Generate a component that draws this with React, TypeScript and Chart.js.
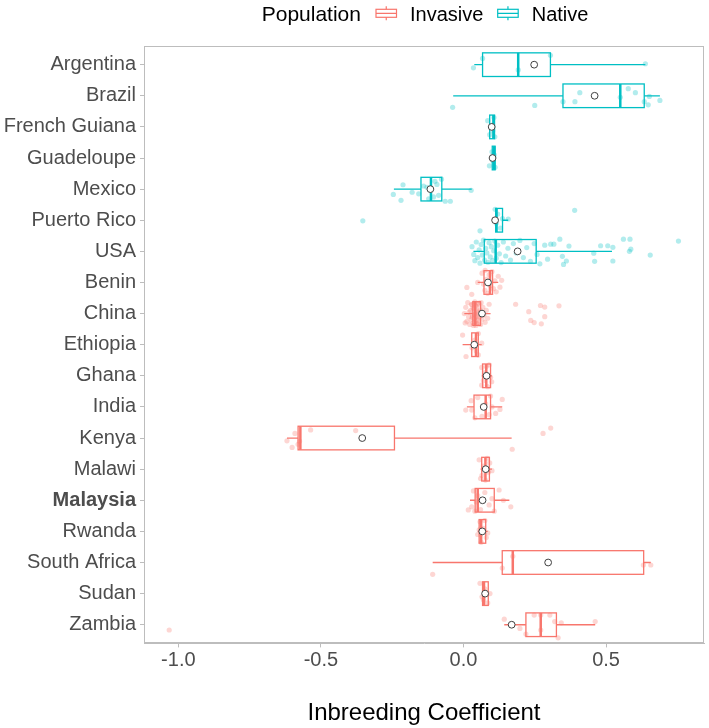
import { useEffect, useRef } from 'react';
import { Chart, registerables } from 'chart.js';

Chart.register(...registerables);

// Countries from top to bottom of the plot
const countries = [
  'Argentina', 'Brazil', 'French Guiana', 'Guadeloupe', 'Mexico', 'Puerto Rico', 'USA',
  'Benin', 'China', 'Ethiopia', 'Ghana', 'India', 'Kenya', 'Malawi', 'Malaysia',
  'Rwanda', 'South Africa', 'Sudan', 'Zambia',
];
const populationOf = [
  'Native', 'Native', 'Native', 'Native', 'Native', 'Native', 'Native',
  'Invasive', 'Invasive', 'Invasive', 'Invasive', 'Invasive', 'Invasive', 'Invasive',
  'Invasive', 'Invasive', 'Invasive', 'Invasive', 'Invasive',
];
const highlighted = 'Malaysia';

// Box-plot summaries per country
const whiskerLow = [0.038, -0.036, 0.090, 0.100, -0.244, 0.105, 0.035, 0.050, 0.003, -0.003, 0.064, 0.012, -0.619, 0.060, 0.023, 0.050, -0.108, 0.065, 0.143];
const lowerQuartile = [0.067, 0.349, 0.092, 0.101, -0.149, 0.113, 0.073, 0.072, 0.033, 0.029, 0.067, 0.037, -0.580, 0.064, 0.041, 0.055, 0.136, 0.067, 0.219];
const medianValue = [0.192, 0.550, 0.105, 0.108, -0.114, 0.116, 0.113, 0.093, 0.041, 0.044, 0.080, 0.078, -0.572, 0.077, 0.050, 0.062, 0.173, 0.072, 0.271];
const upperQuartile = [0.305, 0.634, 0.109, 0.111, -0.076, 0.137, 0.255, 0.102, 0.060, 0.052, 0.095, 0.095, -0.242, 0.091, 0.108, 0.078, 0.632, 0.087, 0.326];
const whiskerHigh = [0.638, 0.689, 0.110, 0.112, 0.029, 0.157, 0.521, 0.122, 0.095, 0.064, 0.100, 0.136, 0.169, 0.100, 0.161, 0.085, 0.657, 0.090, 0.462];
const meanValue = [0.248, 0.460, 0.099, 0.102, -0.116, 0.111, 0.190, 0.086, 0.065, 0.038, 0.081, 0.071, -0.355, 0.078, 0.067, 0.066, 0.297, 0.076, 0.169];

// Individual samples: [inbreeding coefficient, vertical jitter in row units]
const ptsArgentina = [[0.035, 0.10], [0.067, -0.20], [0.192, 0.17], [0.305, -0.30], [0.638, -0.03]];
const ptsBrazil = [[-0.038, 0.37], [0.250, 0.31], [0.349, 0.19], [0.391, 0.19], [0.408, -0.10], [0.550, 0.05], [0.578, -0.23], [0.603, -0.10], [0.634, 0.19], [0.648, 0.29], [0.652, 0.02], [0.689, 0.15]];
const ptsFrenchGuiana = [[0.085, -0.20], [0.092, 0.25], [0.098, -0.05], [0.103, 0.12], [0.107, -0.30], [0.110, 0.32]];
const ptsGuadeloupe = [[0.091, 0.25], [0.100, -0.20], [0.103, 0.08], [0.108, -0.10], [0.111, 0.30]];
const ptsMexico = [[-0.246, 0.17], [-0.219, 0.36], [-0.212, -0.14], [-0.180, 0.10], [-0.157, 0.15], [-0.140, -0.10], [-0.128, -0.06], [-0.122, 0.31], [-0.105, 0.25], [-0.100, -0.25], [-0.093, -0.15], [-0.087, 0.20], [-0.077, -0.32], [-0.064, 0.39], [-0.046, 0.39], [0.027, 0.04]];
const ptsPuertoRico = [[-0.353, 0.02], [0.058, 0.34], [0.111, -0.35], [0.115, 0.10], [0.120, -0.20], [0.130, 0.25], [0.137, -0.05], [0.157, -0.04], [0.390, -0.32]];
const ptsUSA = [
  [0.030, -0.15], [0.036, 0.10], [0.040, 0.30], [0.045, -0.30], [0.050, 0.20], [0.055, -0.05], [0.058, 0.38],
  [0.062, -0.22], [0.066, 0.12], [0.070, -0.36], [0.074, 0.28], [0.078, -0.10], [0.082, 0.05], [0.086, 0.35],
  [0.090, -0.28], [0.094, 0.18], [0.098, -0.15], [0.102, 0.30], [0.106, -0.02], [0.110, -0.33], [0.115, 0.22],
  [0.120, -0.20], [0.126, 0.08], [0.132, 0.36], [0.140, -0.30], [0.148, 0.15], [0.156, -0.10], [0.165, 0.28],
  [0.175, -0.25], [0.185, 0.05], [0.198, -0.35], [0.210, 0.20], [0.222, -0.12], [0.235, 0.32], [0.248, -0.25],
  [0.258, 0.10], [0.268, 0.40], [0.285, -0.20], [0.295, 0.25], [0.306, -0.23], [0.317, -0.23], [0.338, -0.39],
  [0.347, 0.16], [0.351, 0.42], [0.361, 0.31], [0.370, -0.17], [0.457, 0.06], [0.460, 0.32], [0.481, -0.18],
  [0.506, -0.18], [0.524, -0.13], [0.524, 0.31], [0.561, -0.39], [0.582, 0.00], [0.584, -0.39], [0.587, -0.07],
  [0.655, 0.12], [0.754, -0.33],
];
const ptsBenin = [[0.012, 0.16], [0.029, 0.38], [0.050, 0.00], [0.065, -0.30], [0.070, 0.05], [0.075, 0.25], [0.076, -0.39], [0.080, -0.10], [0.085, 0.35], [0.088, 0.00], [0.090, -0.25], [0.095, 0.10], [0.100, -0.35], [0.105, 0.20], [0.110, -0.05], [0.115, 0.30], [0.122, -0.20], [0.128, 0.15], [0.134, -0.07]];
const ptsChina = [
  [0.003, 0.00], [0.006, 0.30], [0.008, -0.20], [0.012, 0.25], [0.015, -0.35], [0.018, 0.10], [0.020, -0.05],
  [0.022, 0.35], [0.025, -0.10], [0.027, 0.20], [0.028, -0.30], [0.030, -0.28], [0.031, 0.12], [0.032, 0.05],
  [0.033, -0.18], [0.034, 0.30], [0.035, 0.38], [0.036, -0.15], [0.037, -0.33], [0.038, 0.15], [0.039, 0.02],
  [0.040, -0.38], [0.041, 0.26], [0.042, 0.00], [0.043, -0.25], [0.044, 0.38], [0.045, 0.08], [0.046, -0.22],
  [0.047, 0.32], [0.048, 0.22], [0.049, -0.08], [0.050, -0.05], [0.051, 0.14], [0.052, 0.30], [0.053, -0.34],
  [0.054, -0.30], [0.056, 0.10], [0.058, -0.12], [0.060, 0.35], [0.062, -0.35], [0.065, 0.18], [0.068, -0.20],
  [0.072, 0.05], [0.076, 0.28], [0.080, -0.10], [0.085, 0.15], [0.090, -0.30],
  [0.183, -0.30], [0.229, -0.06], [0.236, 0.22], [0.248, 0.29], [0.270, -0.26], [0.273, 0.33], [0.285, -0.21],
  [0.285, 0.10], [0.335, -0.25],
];
const ptsEthiopia = [[-0.003, -0.31], [0.009, 0.38], [0.030, 0.10], [0.040, -0.15], [0.045, 0.20], [0.052, -0.36], [0.052, 0.33], [0.064, -0.05]];
const ptsGhana = [[0.064, -0.27], [0.064, 0.30], [0.070, 0.15], [0.075, -0.10], [0.080, -0.30], [0.085, 0.35], [0.090, -0.35], [0.095, 0.05], [0.099, 0.19]];
const ptsIndia = [[0.008, 0.10], [0.027, -0.20], [0.029, 0.10], [0.040, 0.35], [0.050, -0.30], [0.065, 0.30], [0.078, -0.10], [0.090, 0.25], [0.095, -0.35], [0.100, 0.00], [0.113, 0.21], [0.128, 0.08], [0.136, -0.24]];
const ptsKenya = [[-0.619, 0.09], [-0.601, 0.30], [-0.591, -0.15], [-0.580, 0.20], [-0.575, 0.10], [-0.536, -0.26], [-0.378, -0.24], [0.171, 0.36], [0.279, -0.15], [0.306, -0.32]];
const ptsMalawi = [[0.055, -0.30], [0.060, 0.30], [0.065, 0.20], [0.070, -0.10], [0.077, 0.35], [0.083, -0.35], [0.088, 0.10], [0.092, -0.20], [0.100, 0.05]];
const ptsMalaysia = [[0.017, 0.31], [0.029, 0.21], [0.035, -0.30], [0.040, 0.35], [0.045, 0.05], [0.050, -0.15], [0.060, 0.30], [0.075, -0.25], [0.090, 0.15], [0.100, -0.05], [0.108, 0.35], [0.125, -0.33], [0.140, 0.00], [0.166, 0.21]];
const ptsRwanda = [[0.050, 0.10], [0.055, -0.05], [0.058, -0.31], [0.062, 0.35], [0.070, -0.10], [0.075, -0.35], [0.080, 0.20], [0.085, 0.05]];
const ptsSouthAfrica = [[-0.108, 0.38], [0.136, 0.18], [0.173, -0.20], [0.631, 0.08], [0.657, 0.08]];
const ptsSudan = [[0.058, -0.33], [0.065, 0.10], [0.070, 0.20], [0.075, -0.15], [0.085, 0.30], [0.093, 0.00]];
const ptsZambia = [[-1.032, 0.17], [0.143, -0.18], [0.198, 0.12], [0.219, 0.30], [0.248, -0.31], [0.271, -0.31], [0.271, 0.17], [0.303, -0.31], [0.320, -0.10], [0.332, 0.42], [0.343, -0.06], [0.462, -0.10]];

const samplesByCountry = [
  ptsArgentina, ptsBrazil, ptsFrenchGuiana, ptsGuadeloupe, ptsMexico, ptsPuertoRico, ptsUSA,
  ptsBenin, ptsChina, ptsEthiopia, ptsGhana, ptsIndia, ptsKenya, ptsMalawi, ptsMalaysia,
  ptsRwanda, ptsSouthAfrica, ptsSudan, ptsZambia,
];

const xTickValues = [-1.0, -0.5, 0.0, 0.5];
const xMin = -1.1204;
const xMax = 0.8436;

const INVASIVE = '#F8766D';
const NATIVE = '#00BFC4';
const FONT = '"Liberation Sans", Arial, sans-serif';
const BOX_HALF = 0.38;

const colorFor = (i: number) => (populationOf[i] === 'Invasive' ? INVASIVE : NATIVE);

function samplePoints(group: string) {
  const out: { x: number; y: number }[] = [];
  samplesByCountry.forEach((list, i) => {
    if (populationOf[i] !== group) return;
    list.forEach(([v, j]) => out.push({ x: v, y: i + j }));
  });
  return out;
}

// Boxes and whiskers, drawn just before the mean markers
const boxPlugin = {
  id: 'boxes',
  beforeDatasetDraw(chart: any, args: any) {
    if (args.index !== 0) return;
    const { ctx, chartArea, scales } = chart;
    const xs = scales.x;
    const ys = scales.y;
    ctx.save();
    ctx.beginPath();
    ctx.rect(chartArea.left, chartArea.top, chartArea.right - chartArea.left, chartArea.bottom - chartArea.top);
    ctx.clip();
    countries.forEach((_, i) => {
      const yc = ys.getPixelForValue(i);
      const h = Math.abs(ys.getPixelForValue(i + BOX_HALF) - yc);
      const px = (v: number) => xs.getPixelForValue(v);
      ctx.strokeStyle = colorFor(i);
      ctx.lineWidth = 1.3;
      ctx.beginPath();
      ctx.moveTo(px(whiskerLow[i]), yc);
      ctx.lineTo(px(lowerQuartile[i]), yc);
      ctx.moveTo(px(upperQuartile[i]), yc);
      ctx.lineTo(px(whiskerHigh[i]), yc);
      ctx.stroke();
      ctx.strokeRect(px(lowerQuartile[i]), yc - h, px(upperQuartile[i]) - px(lowerQuartile[i]), 2 * h);
      ctx.lineWidth = 2.5;
      ctx.beginPath();
      ctx.moveTo(px(medianValue[i]), yc - h);
      ctx.lineTo(px(medianValue[i]), yc + h);
      ctx.stroke();
    });
    ctx.restore();
  },
};

// Panel frame and the inline legend at the top
const framePlugin = {
  id: 'frame',
  afterDraw(chart: any) {
    const { ctx, chartArea } = chart;
    ctx.save();
    ctx.strokeStyle = '#bdbdbd';
    ctx.lineWidth = 1;
    ctx.strokeRect(
      Math.round(chartArea.left) + 0.5,
      Math.round(chartArea.top) + 0.5,
      Math.round(chartArea.right - chartArea.left) - 1,
      Math.round(chartArea.bottom - chartArea.top) - 1,
    );

    const glyph = (x: number, color: string) => {
      ctx.strokeStyle = color;
      ctx.lineWidth = 1.2;
      const w = 20.5;
      const cx = x + w / 2;
      ctx.strokeRect(x, 9.3, w, 8);
      ctx.beginPath();
      ctx.moveTo(cx, 6.3);
      ctx.lineTo(cx, 9.3);
      ctx.moveTo(cx, 17.3);
      ctx.lineTo(cx, 20.3);
      ctx.moveTo(x, 13.3);
      ctx.lineTo(x + w, 13.3);
      ctx.stroke();
    };
    ctx.fillStyle = '#000';
    ctx.textBaseline = 'alphabetic';
    ctx.textAlign = 'left';
    ctx.font = `21px ${FONT}`;
    ctx.fillText('Population', 261.7, 20.5);
    glyph(376, INVASIVE);
    ctx.font = `20px ${FONT}`;
    ctx.fillText('Invasive', 410, 20.5);
    glyph(497.7, NATIVE);
    ctx.fillText('Native', 531.7, 20.5);
    ctx.restore();
  },
};

export default function App() {
  const canvasRef = useRef<HTMLCanvasElement | null>(null);

  useEffect(() => {
    const canvas = canvasRef.current;
    if (!canvas) return;
    const chart = new Chart(canvas, {
      type: 'scatter',
      data: {
        datasets: [
          {
            label: 'Mean',
            data: meanValue.map((v, i) => ({ x: v, y: i })),
            pointRadius: 3.4,
            pointBackgroundColor: '#ffffff',
            pointBorderColor: '#404040',
            pointBorderWidth: 1,
          },
          {
            label: 'Invasive',
            data: samplePoints('Invasive'),
            pointRadius: 2.6,
            pointBackgroundColor: 'rgba(248,118,109,0.3)',
            pointBorderWidth: 0,
          },
          {
            label: 'Native',
            data: samplePoints('Native'),
            pointRadius: 2.6,
            pointBackgroundColor: 'rgba(0,191,196,0.3)',
            pointBorderWidth: 0,
          },
        ],
      },
      options: {
        responsive: false,
        animation: false,
        devicePixelRatio: 1,
        layout: { padding: { top: 46, right: 2.3, left: 0, bottom: 0 } },
        plugins: { legend: { display: false }, tooltip: { enabled: false } },
        scales: {
          x: {
            type: 'linear',
            min: xMin,
            max: xMax,
            afterBuildTicks: (scale: any) => {
              scale.ticks = xTickValues.map((value) => ({ value }));
            },
            afterFit: (scale: any) => {
              scale.height = 84.6;
            },
            ticks: {
              callback: (v: any) => Number(v).toFixed(1),
              color: '#4d4d4d',
              font: { family: FONT, size: 20 },
              padding: 1,
              maxRotation: 0,
            },
            grid: { drawOnChartArea: false, drawTicks: true, tickLength: 4, color: '#bdbdbd' },
            border: { display: true, color: '#bdbdbd' },
            title: {
              display: true,
              text: 'Inbreeding Coefficient',
              color: '#000',
              font: { family: FONT, size: 24 },
              padding: { top: 0, bottom: 0 },
            },
          },
          y: {
            type: 'linear',
            reverse: true,
            min: -0.6,
            max: 18.6,
            afterBuildTicks: (scale: any) => {
              scale.ticks = countries.map((_, i) => ({ value: i }));
            },
            afterFit: (scale: any) => {
              scale.width = 144;
            },
            ticks: {
              autoSkip: false,
              callback: (v: any) => countries[v] ?? '',
              color: '#4d4d4d',
              padding: 4,
              font: (ctx: any) => ({
                family: FONT,
                size: 20,
                weight: ctx.tick && countries[ctx.tick.value] === highlighted ? 'bold' : 'normal',
              }),
            },
            grid: { drawOnChartArea: false, drawTicks: true, tickLength: 4, color: '#bdbdbd' },
            border: { display: true, color: '#bdbdbd' },
          },
        },
      },
      plugins: [boxPlugin, framePlugin],
    });
    return () => chart.destroy();
  }, []);

  return (
    <div style={{ position: 'fixed', left: 0, top: 0, width: 709, height: 728, background: '#fff' }}>
      <canvas ref={canvasRef} width={709} height={728} style={{ display: 'block' }} />
    </div>
  );
}
